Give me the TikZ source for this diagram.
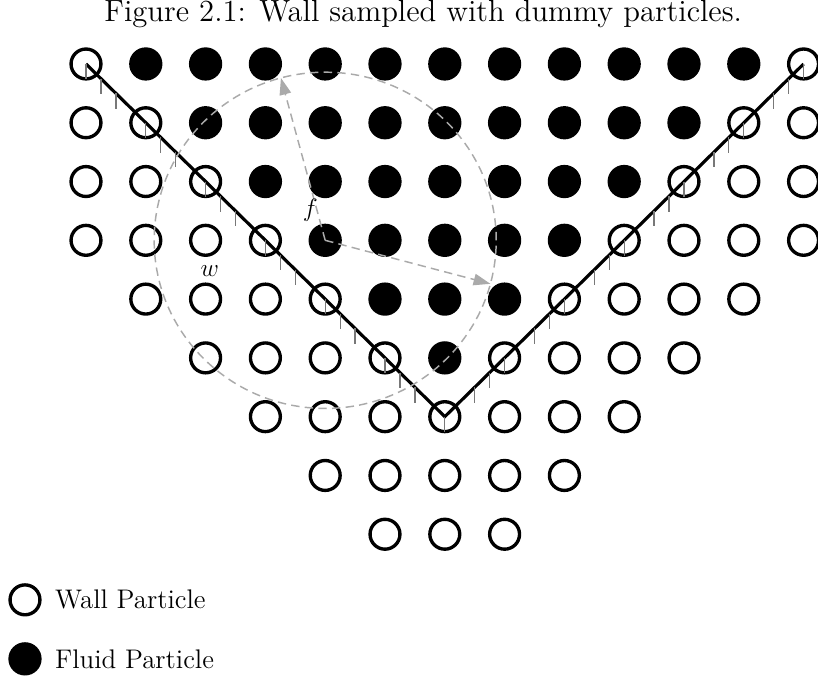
\documentclass[tikz,border=0pt]{standalone}
\usepackage{amsmath,amssymb}
\usepackage{tikz}
\usetikzlibrary{positioning}
\usetikzlibrary{arrows.meta}
\definecolor{RangeGray}{RGB}{170,170,170}
\definecolor{HatchGray}{RGB}{120,120,120}
\tikzset{wallp/.style={circle,draw=black,line width=1.6pt,inner sep=0pt,minimum size=5.0mm}, fluidp/.style={wallp,fill=black}, wall/.style={draw=black,line width=1.5pt}, hatch/.style={draw=HatchGray,line width=0.6pt}, reach/.style={draw=RangeGray,line width=0.7pt,dash pattern=on 4pt off 2.5pt}, legtext/.style={font=\fontsize{12.8}{15}\selectfont,inner sep=0pt}}

\begin{document}
\begin{tikzpicture}[x=1cm,y=0.983cm]
\useasboundingbox (-1.438,-10.476) rectangle (12.241,1.088);
\node[font=\fontsize{14.6}{17}\selectfont] (title) at (5.64,0.85) {Figure 2.1: Wall sampled with dummy particles.};
% particles
\foreach \j/\ws in {0/{0,12},1/{0,1,11,12},2/{0,1,2,10,11,12},3/{0,1,2,3,9,10,11,12},4/{1,2,3,4,8,9,10,11},5/{2,3,4,5,7,8,9,10},6/{3,...,9},7/{4,...,8},8/{5,6,7}}
  \foreach \i in \ws \node[wallp] (p\i-\j) at (\i,-\j) {};
\foreach \j/\a/\b in {0/1/11,1/2/10,2/3/9,3/4/8,4/5/7,5/6/6}
  \foreach \i in {\a,...,\b} \node[fluidp] (p\i-\j) at (\i,-\j) {};
% wall with hatching
\draw[wall] (p0-0.center) -- (p6-6.center) -- (p12-0.center);
\foreach \c in {0,...,5} \foreach \o in {0,0.25,0.5} \draw[hatch] (\c+\o,-\c-\o) -- ++(0,-0.26);
\draw[hatch] (p6-6.center) -- ++(0,-0.26);
\foreach \c in {7,...,12} \foreach \o in {0,0.25,0.5} \draw[hatch] (\c-\o,\c-\o-12) -- ++(0,-0.26);
% kernel support of f
\draw[reach] (p4-3.center) circle (2.86);
\path (p4-3.center) ++(105:2.86) coordinate (tipa);
\path (p4-3.center) ++(-15:2.86) coordinate (tipb);
\draw[reach,-{Triangle[length=8pt,width=5.5pt]}] (p4-3.center) -- (tipa);
\draw[reach,-{Triangle[length=8pt,width=5.5pt]}] (p4-3.center) -- (tipb);
\node[legtext] (flab) at (3.75,-2.48) {$f$};
\node[legtext] (wlab) at (2.07,-3.53) {$w$};
% legend
\node[wallp] (legwall) at (-1.02,-9.116) {};
\node[legtext,right=0.22cm of legwall] (legwalltext) {Wall Particle};
\node[fluidp] (legfluid) at (-1.02,-10.12) {};
\node[legtext,right=0.22cm of legfluid] (legfluidtext) {Fluid Particle};
\end{tikzpicture}
\end{document}
